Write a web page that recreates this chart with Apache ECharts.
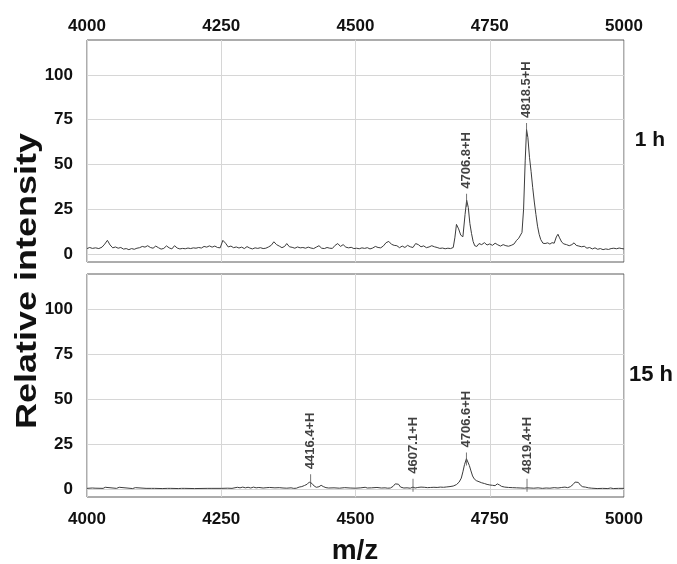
<!DOCTYPE html>
<html>
<head>
<meta charset="utf-8">
<script src="https://cdn.jsdelivr.net/npm/echarts@6/dist/echarts.min.js"></script>
<style>html,body{margin:0;padding:0;background:#fff}#c{width:677px;height:564px}</style>
</head>
<body>
<div id="c"></div>
<script>
// ---- data ----
var xTicks = [4000, 4250, 4500, 4750, 5000];
var yTicks = [0, 25, 50, 75, 100];
var panelLabels = ['1 h', '15 h'];
var axisTitleY = 'Relative intensity';
var axisTitleX = 'm/z';

// 1 h spectrum: [m/z, relative intensity]
var spectrum1h = [
[4000,3.0],[4005,3.6],[4010,3.1],[4016,3.4],[4022,3.0],[4028,3.8],[4033,5.5],[4038,7.6],[4043,5.0],[4048,3.4],
[4053,3.9],[4058,3.2],[4063,3.6],[4068,2.7],[4073,3.0],[4078,2.4],[4083,3.0],[4088,2.6],[4093,3.2],[4098,3.5],
[4103,4.2],[4108,3.8],[4113,4.6],[4118,3.6],[4123,3.2],[4128,4.4],[4133,3.5],[4138,2.7],[4143,3.1],[4148,4.5],
[4153,3.4],[4158,2.8],[4163,4.6],[4168,3.3],[4173,2.8],[4178,3.1],[4183,2.9],[4188,3.3],[4193,3.0],[4198,3.4],
[4203,3.2],[4208,3.6],[4213,3.3],[4218,4.2],[4223,3.8],[4228,4.5],[4233,3.8],[4238,4.4],[4243,3.6],[4248,3.4],
[4253,7.6],[4258,6.0],[4263,3.9],[4268,4.4],[4273,3.5],[4278,3.9],[4283,3.3],[4288,3.8],[4293,3.0],[4298,4.1],
[4303,3.3],[4308,2.8],[4313,3.4],[4318,3.1],[4323,3.5],[4328,3.0],[4333,3.2],[4338,3.9],[4343,4.8],[4348,6.8],
[4353,5.2],[4358,4.4],[4363,3.5],[4368,4.2],[4372,5.8],[4377,4.0],[4382,3.7],[4387,3.2],[4392,3.9],[4397,3.4],
[4402,3.6],[4407,3.2],[4412,3.8],[4417,3.3],[4422,3.0],[4427,3.8],[4432,4.6],[4437,3.2],[4442,3.0],[4447,3.6],
[4452,3.2],[4457,3.1],[4462,4.8],[4467,5.8],[4472,4.2],[4477,5.2],[4482,3.8],[4487,3.4],[4492,3.7],[4497,3.0],
[4502,3.2],[4507,2.9],[4512,3.4],[4517,3.1],[4522,3.5],[4527,2.8],[4532,3.3],[4537,4.2],[4542,3.6],[4547,3.4],
[4552,4.5],[4557,6.3],[4562,7.0],[4567,5.4],[4572,4.8],[4577,4.6],[4582,3.5],[4587,4.4],[4592,3.6],[4597,4.8],
[4602,4.0],[4607,3.6],[4612,5.8],[4617,5.2],[4622,4.0],[4627,4.5],[4632,3.5],[4637,3.9],[4642,4.6],[4647,4.0],
[4652,3.6],[4657,3.1],[4662,3.3],[4667,2.9],[4672,3.2],[4677,3.0],[4682,3.6],[4685,9.0],[4688,16.5],[4692,14.0],
[4696,10.5],[4700,9.6],[4704,22.0],[4707,30.0],[4710,26.0],[4713,17.0],[4716,11.5],[4719,7.0],[4722,4.6],[4726,4.2],
[4730,5.8],[4735,5.2],[4740,6.3],[4745,5.0],[4750,5.6],[4755,4.8],[4760,6.0],[4765,5.1],[4770,4.4],[4775,5.2],
[4780,4.6],[4785,4.3],[4790,4.8],[4795,5.5],[4800,7.6],[4804,8.8],[4807,8.0],[4810,12.0],[4813,25.0],[4816,52.0],
[4818.5,69.5],[4821,65.0],[4824,54.0],[4827,46.0],[4830,37.0],[4833,29.0],[4836,22.0],[4839,15.5],[4842,11.0],[4845,8.0],
[4849,6.0],[4853,5.8],[4858,6.2],[4862,5.5],[4866,6.3],[4870,6.0],[4874,9.5],[4877,11.0],[4880,9.0],[4884,6.6],
[4888,5.6],[4893,5.2],[4898,4.6],[4903,5.2],[4907,6.2],[4911,4.8],[4916,4.4],[4921,4.0],[4926,4.3],[4931,3.2],
[4936,3.6],[4941,2.8],[4946,3.4],[4951,2.6],[4956,3.0],[4961,2.4],[4966,2.8],[4971,2.5],[4976,3.0],[4981,3.2],
[4986,2.9],[4991,3.3],[4996,3.0],[5000,2.8]
];

// 15 h spectrum: [m/z, relative intensity]
var spectrum15h = [
[4000,0.3],[4010,0.5],[4012,0.9],[4015,0.4],[4030,0.3],[4034,0.9],[4037,0.4],[4055,0.3],[4060,0.9],[4063,0.3],
[4085,0.2],[4090,0.7],[4093,0.2],[4110,0.3],[4120,0.3],[4123,0.8],[4126,0.3],[4140,0.2],[4150,0.3],[4153,0.8],
[4156,0.3],[4170,0.2],[4176,0.3],[4178,0.8],[4181,0.3],[4200,0.2],[4225,0.3],[4228,0.8],[4231,0.3],[4250,0.3],
[4262,0.4],[4270,0.3],[4280,0.9],[4285,0.6],[4290,1.0],[4295,0.6],[4300,0.9],[4305,0.5],[4310,1.0],[4315,0.6],
[4320,0.8],[4328,0.5],[4335,0.7],[4340,0.8],[4350,0.6],[4358,0.7],[4365,0.5],[4372,0.4],[4380,0.6],[4385,0.3],
[4390,0.4],[4395,1.0],[4400,1.3],[4405,1.9],[4410,2.6],[4414,3.8],[4416.4,4.2],[4419,3.0],[4423,1.6],[4427,0.9],
[4432,1.2],[4436,2.0],[4440,1.3],[4445,0.7],[4450,0.5],[4460,0.6],[4470,0.4],[4480,0.7],[4490,0.5],[4500,0.4],
[4510,0.6],[4518,0.9],[4522,0.5],[4530,0.6],[4540,0.8],[4548,0.5],[4555,0.6],[4560,0.4],[4565,0.5],[4570,1.4],
[4574,2.8],[4577,3.7],[4580,2.6],[4584,1.0],[4590,0.5],[4596,0.6],[4602,0.4],[4607,1.0],[4611,0.5],[4616,0.8],
[4622,1.0],[4628,0.9],[4634,0.7],[4640,0.8],[4646,0.9],[4652,0.8],[4658,1.0],[4664,0.9],[4670,1.1],[4676,1.3],
[4682,1.6],[4688,2.4],[4693,3.8],[4697,6.0],[4700,9.5],[4703,13.5],[4706.6,16.8],[4709,15.8],[4712,13.0],[4715,10.0],
[4718,7.2],[4721,5.6],[4725,4.6],[4730,4.0],[4735,3.4],[4740,3.0],[4745,2.5],[4750,2.2],[4755,2.0],[4760,1.8],
[4764,2.8],[4768,2.2],[4772,1.4],[4778,1.0],[4785,0.8],[4792,0.7],[4800,0.6],[4808,0.5],[4815,0.4],[4819,0.6],
[4825,0.5],[4832,0.4],[4840,0.6],[4848,0.3],[4855,0.5],[4862,0.4],[4870,0.7],[4877,0.5],[4884,0.8],[4890,1.0],
[4895,0.7],[4900,1.2],[4905,2.4],[4909,3.8],[4912,4.4],[4915,3.6],[4919,2.0],[4923,1.2],[4928,1.0],[4934,0.6],
[4940,0.4],[4950,0.2],[4960,0.3],[4970,0.2],[4975,0.5],[4980,0.2],[4990,0.3],[5000,0.3]
];

// annotated peaks: [m/z, marker intensity, label]
var peaks1h = [[4706.8, 30, '4706.8+H'], [4818.5, 69.5, '4818.5+H']];
var peaks15h = [[4416.4, 4.5, '4416.4+H'], [4607.1, 2.1, '4607.1+H'], [4706.6, 16.6, '4706.6+H'], [4819.4, 2.1, '4819.4+H']];

// ---- chart ----
var FONT = '"Liberation Sans", Arial, Helvetica, sans-serif';
var TXT = '#111';
var GRIDC = '#d6d6d6';

function xAxisCfg(gi, pos) {
  return {
    type: 'value', gridIndex: gi, position: pos,
    min: xTicks[0], max: xTicks[xTicks.length - 1], interval: xTicks[1] - xTicks[0],
    axisLine: {show: false}, axisTick: {show: false},
    axisLabel: {show: true, color: TXT, fontFamily: FONT, fontWeight: 'bold', fontSize: 17,
      margin: pos === 'top' ? 5 : 14, formatter: function (v) { return String(v); }},
    splitLine: {show: true, lineStyle: {color: GRIDC, width: 1}}
  };
}
function yAxisCfg(gi) {
  return {
    type: 'value', gridIndex: gi, min: -4.5, max: 119.5,
    axisLine: {show: false},
    axisTick: {show: false, customValues: yTicks},
    axisLabel: {color: TXT, fontFamily: FONT, fontWeight: 'bold', fontSize: 17, margin: 14, customValues: yTicks},
    splitLine: {show: true, lineStyle: {color: GRIDC, width: 1}}
  };
}
function peakSeries(gi, peaks) {
  return {
    type: 'scatter', xAxisIndex: gi, yAxisIndex: gi, silent: true,
    symbol: 'rect', symbolSize: [1, 13],
    itemStyle: {color: '#555'},
    data: peaks.map(function (p) { return {value: [p[0], p[1]], name: p[2]}; }),
    label: {
      show: true, position: 'top', distance: 5, rotate: 90,
      align: 'left', verticalAlign: 'middle',
      formatter: function (d) { return d.name; },
      color: TXT, fontFamily: FONT, fontWeight: 'bold', fontSize: 13
    },
    z: 3
  };
}
function lineSeries(gi, data) {
  return {
    type: 'line', xAxisIndex: gi, yAxisIndex: gi, data: data,
    showSymbol: false, silent: true, smooth: false,
    lineStyle: {color: '#3c3c3c', width: 1}, z: 2
  };
}

var chart = echarts.init(document.getElementById('c'), null, {renderer: 'canvas'});
chart.setOption({
  animation: false,
  backgroundColor: '#fff',
  grid: [
    {left: 87, top: 40, width: 537, height: 222, show: true, borderColor: '#5a5a5a', borderWidth: 1, backgroundColor: 'transparent'},
    {left: 87, top: 274, width: 537, height: 223, show: true, borderColor: '#5a5a5a', borderWidth: 1, backgroundColor: 'transparent'}
  ],
  xAxis: [xAxisCfg(0, 'top'), xAxisCfg(1, 'bottom')],
  yAxis: [yAxisCfg(0), yAxisCfg(1)],
  series: [
    lineSeries(0, spectrum1h), lineSeries(1, spectrum15h),
    peakSeries(0, peaks1h), peakSeries(1, peaks15h)
  ],
  graphic: [
    {type: 'text', x: 28, y: 281, rotation: Math.PI / 2, scaleX: 1.2,
     style: {text: axisTitleY, fill: TXT, font: 'bold 30px ' + FONT, align: 'center', verticalAlign: 'middle', textAlign: 'center', textVerticalAlign: 'middle'}},
    {type: 'text', x: 355, y: 551,
     style: {text: axisTitleX, fill: TXT, font: 'bold 28px ' + FONT, align: 'center', verticalAlign: 'middle', textAlign: 'center', textVerticalAlign: 'middle'}},
    {type: 'text', x: 650, y: 140,
     style: {text: panelLabels[0], fill: TXT, font: 'bold 21px ' + FONT, align: 'center', verticalAlign: 'middle', textAlign: 'center', textVerticalAlign: 'middle'}},
    {type: 'text', x: 651, y: 375,
     style: {text: panelLabels[1], fill: TXT, font: 'bold 22px ' + FONT, align: 'center', verticalAlign: 'middle', textAlign: 'center', textVerticalAlign: 'middle'}}
  ]
});
</script>
</body>
</html>
